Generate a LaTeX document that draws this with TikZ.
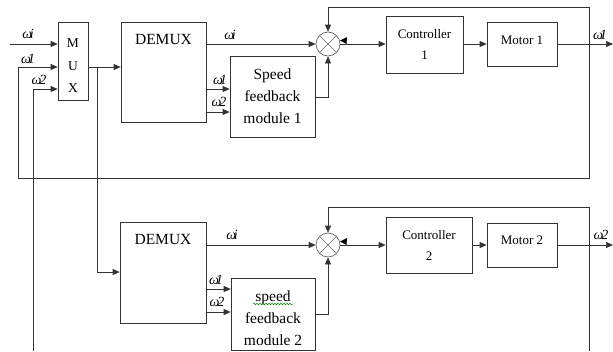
\documentclass[tikz,border=0pt]{standalone}
\usepackage{fontspec}
\setmainfont{Liberation Serif}
\usetikzlibrary{arrows.meta,decorations.pathmorphing}
\begin{document}
\begin{tikzpicture}[x=1pt,y=-1pt,
  line width=0.7pt, draw=black!80,
  box/.style={draw=black!80, rectangle, inner sep=0pt},
  sumnode/.style={draw=black!60, circle, minimum size=24pt, inner sep=0pt,
    path picture={\draw[black!60, line width=0.6pt]
      (path picture bounding box.north west) -- (path picture bounding box.south east)
      (path picture bounding box.north east) -- (path picture bounding box.south west);}},
  arr/.style={draw=black!80, -{Triangle[length=7pt,width=6pt]}},
  wlbl/.style={font=\fontsize{14}{14}\selectfont\itshape, inner sep=0pt},
  big/.style={font=\fontsize{15.5}{22}\selectfont, align=center},
  mid/.style={font=\fontsize{13}{21}\selectfont, align=center}
]
\useasboundingbox (0,0) rectangle (613,351);

% level coordinates
\coordinate (y7) at (0,7);
\coordinate (y44) at (0,44);
\coordinate (y67) at (0,67);
\coordinate (y89) at (0,89);
\coordinate (y97) at (0,97);
\coordinate (y112) at (0,112);
\coordinate (y178) at (0,178);
\coordinate (y207) at (0,207);
\coordinate (y272) at (0,272);
\coordinate (y289) at (0,289);
\coordinate (y312) at (0,312);
\coordinate (y314) at (0,314);

% ---------- top ----------
\node[box, minimum width=30pt, minimum height=78pt] (mux) at (73,61) {};
\node[font=\fontsize{13.5}{22.5}\selectfont, align=center] (muxt) at (73,66) {M\\U\\X};

\node[box, minimum width=85pt, minimum height=100pt] (dm1) at (163.5,72) {};
\node[big] (dm1t) at (163.5,39) {DEMUX};

\node[box, big, minimum width=85pt, minimum height=81pt] (sf1) at (272.5,96.5) {Speed\\feedback\\module 1};

\node[sumnode] (s1) at (328,44) {};

\node[box, mid, minimum width=77pt, minimum height=57pt] (c1) at (424.5,44.5) {Controller\\1};

\node[box, minimum width=70pt, minimum height=44pt] (m1) at (522,44) {};
\node[mid] (m1t) at (522,40) {Motor 1};

% inputs to MUX
\coordinate (wiin) at (10,44);
\coordinate (c18) at (18,178);
\coordinate (c33) at (33,351);
\draw[arr] (wiin) -- (mux.west |- wiin);
\node[wlbl] (lwi0) at (28,34) {ω\kern-2.5pt i};
\node[wlbl] (lw10) at (28,59) {ω\kern-3pt 1};
\node[wlbl] (lw20) at (39,80) {ω\kern-2pt 2};
\draw[arr] (c33) |- (mux.west |- y89);

% MUX -> DEMUX
\coordinate (br) at (97,67);
\draw[arr] (mux.east |- y67) -- (dm1.west |- y67);

% DEMUX1 outputs
\draw[arr] (dm1.east |- s1) -- (s1.west);
\node[wlbl] (lwi1) at (230,35) {ω\kern-2.5pt i};
\draw[arr] (dm1.east |- y89) -- (sf1.west |- y89);
\draw[arr] (dm1.east |- y112) -- (sf1.west |- y112);
\node[wlbl] (lw11) at (220,80) {ω\kern-3pt 1};
\node[wlbl] (lw21) at (219,102) {ω\kern-2pt 2};
\draw[arr] (sf1.east |- y97) -| (s1.south);

% forward path
\draw[arr] (s1.east) -- (c1.west |- s1);
\draw[arr] (c1.east |- m1) -- (m1.west);
\coordinate (out1) at (613,44);
\coordinate (fb1) at (589,44);
\draw[arr] (m1.east) -- (out1);
\node[wlbl] (lwo1) at (600,35) {ω\kern-3pt 1};

% feedback loops
\draw[arr] (fb1) -- (fb1 |- y7) -| (s1.north);
\draw[arr] (fb1) |- (c18) |- (mux.west |- y67);
\fill[black] (347,37) -- (340,40.5) -- (346.5,44) -- cycle;

% ---------- bottom ----------
\node[box, minimum width=86pt, minimum height=101pt] (dm2) at (163,272.5) {};
\node[big] (dm2t) at (163,239) {DEMUX};

\node[box, minimum width=84pt, minimum height=72pt] (sf2) at (273,314) {};
\node[big] (sf2t) at (273,318) {speed\\feedback\\module 2};
\draw[green!55!black, line width=0.5pt, decorate,
  decoration={snake, amplitude=0.8pt, segment length=3pt}] (253,304) -- (293,304);

\node[sumnode] (s2) at (328,245) {};

\node[box, mid, minimum width=86pt, minimum height=56pt] (c2) at (429,245) {Controller\\2};

\node[box, minimum width=70pt, minimum height=44pt] (m2) at (522,245) {};
\node[mid] (m2t) at (522,240) {Motor 2};

\draw[arr] (br) |- (dm2.west |- y272);

\draw[arr] (dm2.east |- s2) -- (s2.west);
\node[wlbl] (lwi2) at (232,235) {ω\kern-2.5pt i};
\draw[arr] (dm2.east |- y289) -- (sf2.west |- y289);
\draw[arr] (dm2.east |- y312) -- (sf2.west |- y312);
\node[wlbl] (lw12) at (216,280) {ω\kern-3pt 1};
\node[wlbl] (lw22) at (217,302) {ω\kern-2pt 2};
\draw[arr] (sf2.east |- y314) -| (s2.south);

\draw[arr] (s2.east) -- (c2.west |- s2);
\draw[arr] (c2.east |- m2) -- (m2.west);
\coordinate (out2) at (613,245);
\coordinate (fb2) at (589,245);
\coordinate (fb2end) at (589,351);
\draw[arr] (m2.east) -- (out2);
\node[wlbl] (lwo2) at (601,235) {ω\kern-2pt 2};

\draw[arr] (fb2) -- (fb2 |- y207) -| (s2.north);
\draw (fb2) -- (fb2end);
\fill[black] (347,238) -- (340,241.5) -- (346.5,245) -- cycle;
\end{tikzpicture}
\end{document}
